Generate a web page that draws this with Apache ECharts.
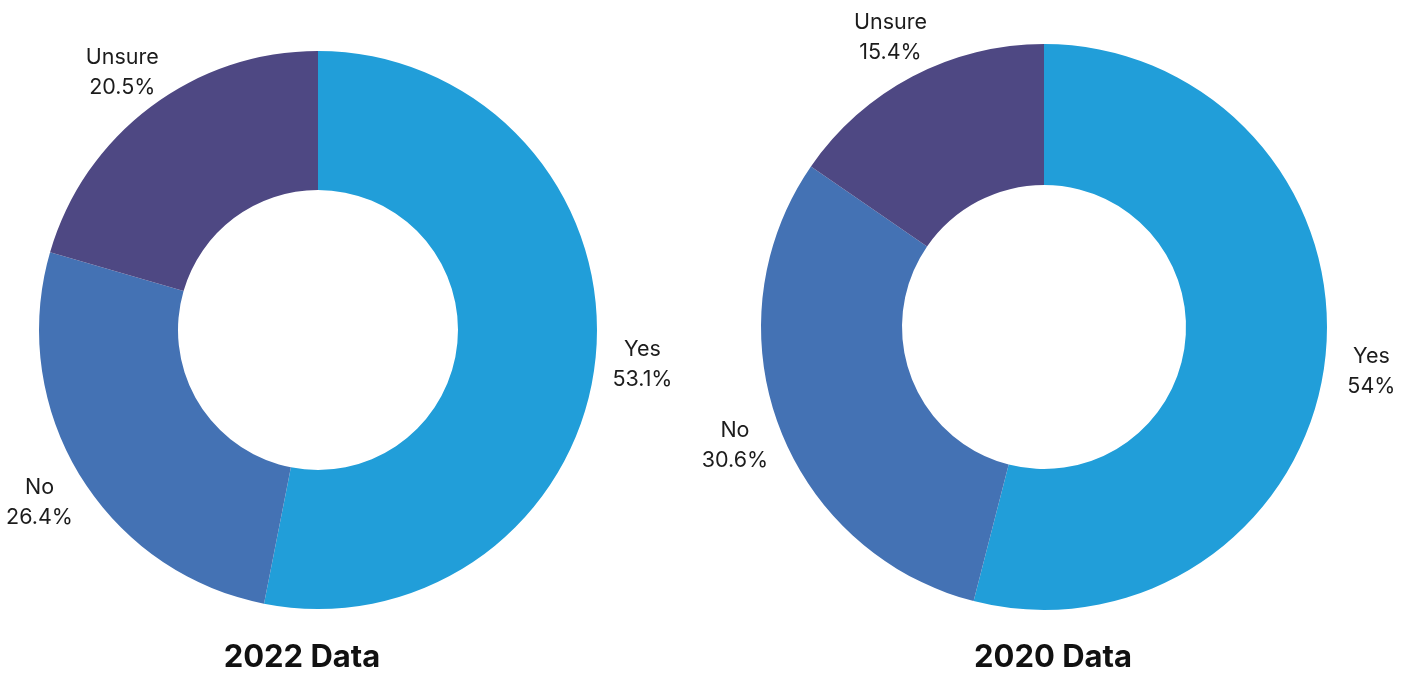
<!DOCTYPE html>
<html>
<head>
<meta charset="utf-8">
<script src="https://cdn.jsdelivr.net/npm/echarts@6/dist/echarts.min.js"></script>
<style>
  html, body { margin: 0; padding: 0; background: #ffffff; }
  #chart { width: 1409px; height: 673px; }
</style>
</head>
<body>
<div id="chart"></div>
<script>
// Survey answers, shares in percent
const categories = ['Yes', 'No', 'Unsure'];
const values2022 = [53.1, 26.4, 20.5];
const values2020 = [54, 30.6, 15.4];
const titles = ['2022 Data', '2020 Data'];
const colors = ['#219ed9', '#4472b4', '#4e4883'];

const FONT = 'Inter, "Noto Sans", sans-serif';

function donut(values, center, radius) {
  return {
    type: 'pie',
    center: center,
    radius: radius,
    startAngle: 90,
    clockwise: true,
    avoidLabelOverlap: false,
    silent: true,
    data: categories.map((name, i) => ({ name: name, value: values[i] })),
    itemStyle: { borderWidth: 0 },
    label: {
      show: true,
      position: 'outside',
      alignTo: 'none',
      distanceToLabelLine: 0,
      formatter: '{b}\n{c}%',
      color: '#1c1c1c',
      fontFamily: FONT,
      fontSize: 21.5,
      lineHeight: 30
    },
    labelLine: { show: false, length: 47, length2: 0 },
    // centre each two-line label on the end of its (hidden) leader line
    labelLayout: function () {
      return { align: 'center', verticalAlign: 'middle', dy: 3 };
    }
  };
}

const chart = echarts.init(document.getElementById('chart'), null, { renderer: 'canvas' });
chart.setOption({
  animation: false,
  color: colors,
  graphic: [
    {
      type: 'text', x: 302, y: 658,
      style: { text: titles[0], align: 'center', verticalAlign: 'middle',
               font: 'bold 31px ' + FONT, fill: '#111' }
    },
    {
      type: 'text', x: 1053, y: 658,
      style: { text: titles[1], align: 'center', verticalAlign: 'middle',
               font: 'bold 31px ' + FONT, fill: '#111' }
    }
  ],
  series: [
    donut(values2022, [318, 330], [140, 279]),
    donut(values2020, [1044, 327], [142, 283])
  ]
});
</script>
</body>
</html>
